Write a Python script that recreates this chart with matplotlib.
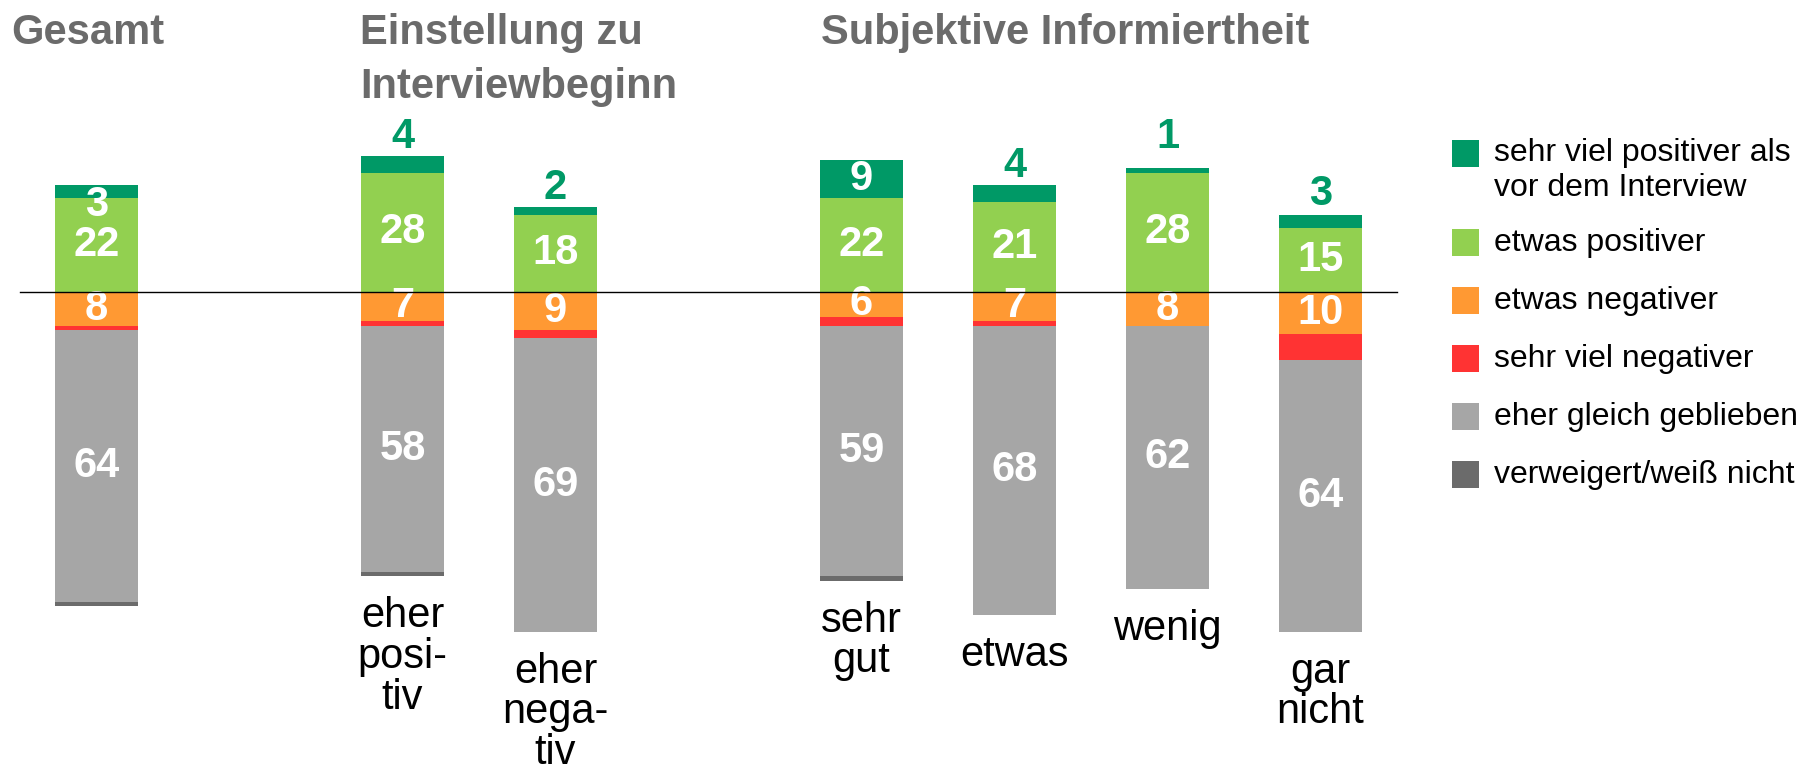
import matplotlib
matplotlib.use("Agg")
import matplotlib.pyplot as plt
from matplotlib.patches import Rectangle

plt.rcParams['font.family'] = ['Liberation Sans', 'DejaVu Sans']

# ---------------- data ----------------
categories = ["", "eher\nposi-\ntiv", "eher\nnega-\ntiv", "sehr\ngut", "etwas", "wenig", "gar\nnicht"]
groups = ["Gesamt", "Einstellung zu\nInterviewbeginn", "Subjektive Informiertheit"]
series_names = ["sehr viel positiver als\nvor dem Interview", "etwas positiver", "etwas negativer",
                "sehr viel negativer", "eher gleich geblieben", "verweigert/weiß nicht"]
sehr_viel_positiver = [3, 4, 2, 9, 4, 1, 3]
etwas_positiver = [22, 28, 18, 22, 21, 28, 15]
etwas_negativer = [8, 7, 9, 6, 7, 8, 10]
sehr_viel_negativer = [1, 1, 2, 2, 1, 0, 6]
eher_gleich = [64, 58, 69, 59, 68, 62, 64]
verweigert = [1, 1, 0, 1, 0, 0, 0]

# ---------------- layout / style ----------------
colors = ["#009966", "#92D050", "#FF9933", "#FF3333", "#A6A6A6", "#6B6B6B"]
title_color = "#6B6B6B"
positions = [0, 2, 3, 5, 6, 7, 8]
bar_width = 0.536
top_label_mode = ["inside_top", "above", "above", "inside", "above", "above", "above"]
above_gap_px = [0, 8, 8, 0, 8, 20, 10]

W, H = 1801, 767
fig = plt.figure(figsize=(W / 100, H / 100), dpi=100)
ax = fig.add_axes([0, 0, 1, 1])
ax.axis("off")
slot_px = 153.0
x0_px = 96.5
base_px = 291.6
unit_px = 4.25
ax.set_xlim(-x0_px / slot_px, (W - x0_px) / slot_px)
ax.set_ylim(-(H - base_px) / unit_px, base_px / unit_px)

pt_per_px = 72 / 100

# positive stack
ax.bar(positions, etwas_positiver, bar_width, color=colors[1], linewidth=0)
ax.bar(positions, sehr_viel_positiver, bar_width, bottom=etwas_positiver, color=colors[0], linewidth=0)
# negative stack
neg1 = [-v for v in etwas_negativer]
ax.bar(positions, neg1, bar_width, color=colors[2], linewidth=0)
bot3 = neg1
ax.bar(positions, [-v for v in sehr_viel_negativer], bar_width, bottom=bot3, color=colors[3], linewidth=0)
bot4 = [a - b for a, b in zip(bot3, sehr_viel_negativer)]
ax.bar(positions, [-v for v in eher_gleich], bar_width, bottom=bot4, color=colors[4], linewidth=0)
bot5 = [a - b for a, b in zip(bot4, eher_gleich)]
ax.bar(positions, [-v for v in verweigert], bar_width, bottom=bot5, color=colors[5], linewidth=0)
bottoms = [a - b for a, b in zip(bot5, verweigert)]

# baseline
ax.plot([-0.5, 8.5], [0, 0], color="black", lw=1.0, zorder=5)

num_kw = dict(fontsize=30, fontweight="bold", ha="center")
for i, x in enumerate(positions):
    ax.text(x, etwas_positiver[i] / 2, str(etwas_positiver[i]), color="white", va="center", **num_kw)
    ax.text(x, -etwas_negativer[i] / 2, str(etwas_negativer[i]), color="white", va="center", **num_kw)
    ax.text(x, bot4[i] - eher_gleich[i] / 2, str(eher_gleich[i]), color="white", va="center", **num_kw)
    top = etwas_positiver[i] + sehr_viel_positiver[i]
    mode = top_label_mode[i]
    if mode == "inside_top":
        ax.text(x, top, str(sehr_viel_positiver[i]), color="white", va="top", **num_kw)
    elif mode == "inside":
        ax.text(x, etwas_positiver[i] + sehr_viel_positiver[i] / 2, str(sehr_viel_positiver[i]),
                color="white", va="center", **num_kw)
    else:
        ax.annotate(str(sehr_viel_positiver[i]), (x, top), xytext=(0, above_gap_px[i] * pt_per_px),
                    textcoords="offset points", color=colors[0], va="baseline", **num_kw)
    if categories[i]:
        ax.annotate(categories[i], (x, bottoms[i]), xytext=(0, -20 * pt_per_px), textcoords="offset points",
                    ha="center", va="top", fontsize=30, color="black", linespacing=1.02)

# group titles
title_x_px = [11.5, 360, 821]
for t, xp in zip(groups, title_x_px):
    fig.text(xp / W, 1 - 13 / H, t, fontsize=30, fontweight="bold", color=title_color,
             ha="left", va="top", linespacing=1.45)

# legend (manual)
sq_left = 1452
sq_size = 27
sq_tops = [140, 229, 287, 345, 403, 461]
text_x = 1494
for name, c, tp in zip(series_names, colors, sq_tops):
    fig.add_artist(Rectangle((sq_left / W, 1 - (tp + sq_size) / H), sq_size / W, sq_size / H,
                             transform=fig.transFigure, color=c, lw=0))
    if "\n" in name:
        fig.text(text_x / W, 1 - (tp - 2) / H, name, fontsize=23, color="black",
                 ha="left", va="top", linespacing=1.2)
    else:
        fig.text(text_x / W, 1 - (tp + sq_size - 5) / H, name, fontsize=23, color="black",
                 ha="left", va="baseline")

fig.savefig("out.png", dpi=100)
